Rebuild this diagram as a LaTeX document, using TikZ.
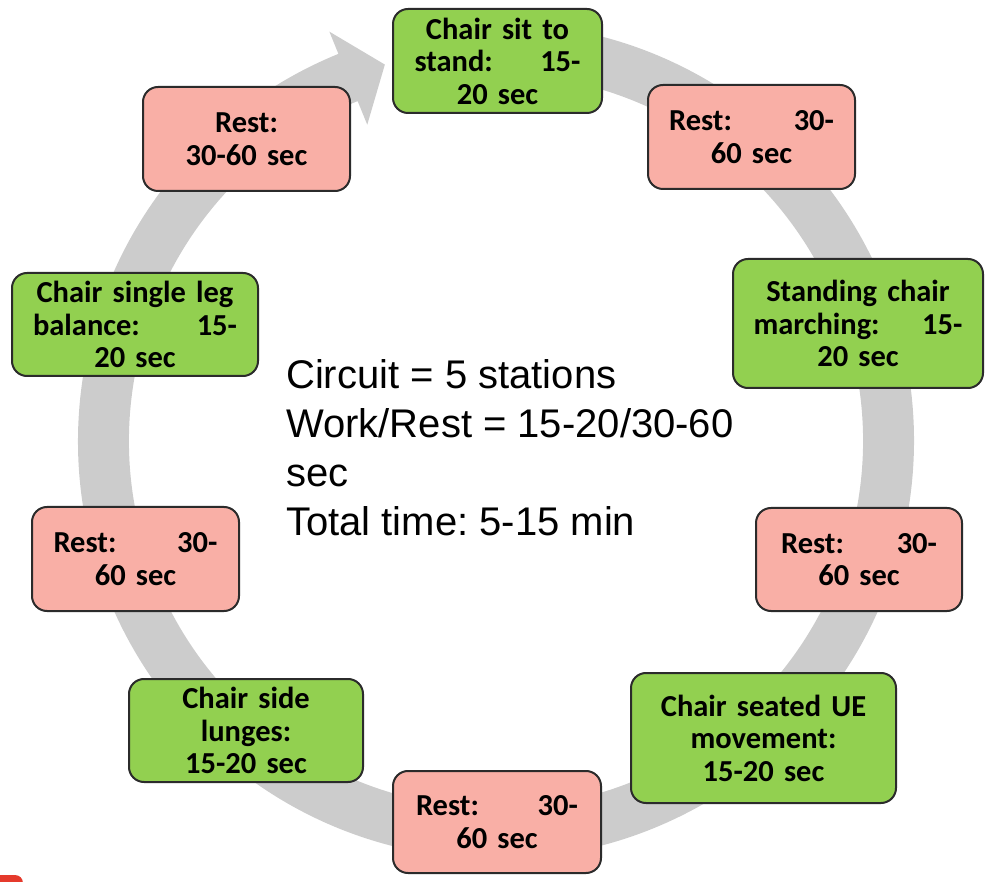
\documentclass[tikz,border=0pt]{standalone}
\usepackage{fontspec}
\setmainfont{Carlito}
\newfontfamily\arialfont{Liberation Sans}
\frenchspacing
\definecolor{workgreen}{HTML}{92D050}
\definecolor{restpink}{HTML}{F9AFA6}
\definecolor{boxline}{HTML}{2B2B2B}
\definecolor{ringgray}{HTML}{CCCCCC}
\definecolor{cornerred}{HTML}{E53A2C}
% justified line: left part flush left, right part flush right
\newcommand\jl[3]{\makebox[#1]{#2\hfill#3}}
\tikzset{
  box/.style={draw=boxline, line width=2pt, rounded corners=15pt, inner sep=0pt,
    align=center, font=\bfseries\fontsize{30.5}{32.5}\selectfont},
  work/.style={box, fill=workgreen},
  rest/.style={box, fill=restpink},
}
\begin{document}
\begin{tikzpicture}[x=1pt, y=1pt]
\useasboundingbox (0,0) rectangle (994,-882);

% circular arrow behind the stations
\begin{scope}[shift={(496,-441)}]
  \fill[ringgray] (85:418) arc[start angle=85, end angle=-247.85, radius=418]
    -- (-247.85:442) -- (-253.55:392.5) -- (-247.85:341.5)
    -- (-247.85:367) arc[start angle=-247.85, end angle=85, radius=367] -- cycle;
\end{scope}

% stations
\node[work, minimum width=209pt, minimum height=104pt, text width=166pt] (s1) at (497.5,-61)
  {Chair sit to\\\jl{166pt}{stand:}{15-}\\20 sec};
\node[rest, minimum width=207pt, minimum height=104pt, text width=165pt] (r1) at (751.5,-137)
  {\jl{165pt}{Rest:}{30-}\\60 sec};
\node[work, minimum width=250pt, minimum height=129pt, text width=209pt] (s2) at (858,-323.5)
  {Standing chair\\\jl{209pt}{marching:}{15-}\\20 sec};
\node[rest, minimum width=206pt, minimum height=103pt, text width=156pt] (r2) at (859,-559.5)
  {\jl{156pt}{Rest:}{30-}\\60 sec};
\node[work, minimum width=265pt, minimum height=130pt, text width=235pt] (s3) at (763.5,-738)
  {Chair seated UE\\movement:\\15-20 sec};
\node[rest, minimum width=208pt, minimum height=102pt, text width=162pt] (r3) at (497,-822)
  {\jl{162pt}{Rest:}{30-}\\60 sec};
\node[work, minimum width=234pt, minimum height=103pt, text width=204pt] (s4) at (246,-730.5)
  {Chair side\\lunges:\\15-20 sec};
\node[rest, minimum width=207pt, minimum height=104pt, text width=164pt] (r4) at (135.5,-559)
  {\jl{164pt}{Rest:}{30-}\\60 sec};
\node[work, minimum width=246pt, minimum height=103pt, text width=204pt] (s5) at (135,-324.5)
  {Chair single leg\\\jl{204pt}{balance:}{15-}\\20 sec};
\node[rest, minimum width=207pt, minimum height=104pt, text width=177pt] (r5) at (246.5,-139)
  {Rest:\\30-60 sec};

% summary in the middle
\node[anchor=north west, inner sep=0pt, align=left,
  font=\arialfont\fontsize{40}{49}\selectfont] (info) at (286,-359)
  {Circuit = 5 stations\\Work/Rest = 15-20/30-60\\sec\\Total time: 5-15 min};

% red corner shape at the lower left edge
\fill[cornerred, rounded corners=8pt] (-20,-875) rectangle (23,-900);
\end{tikzpicture}
\end{document}
